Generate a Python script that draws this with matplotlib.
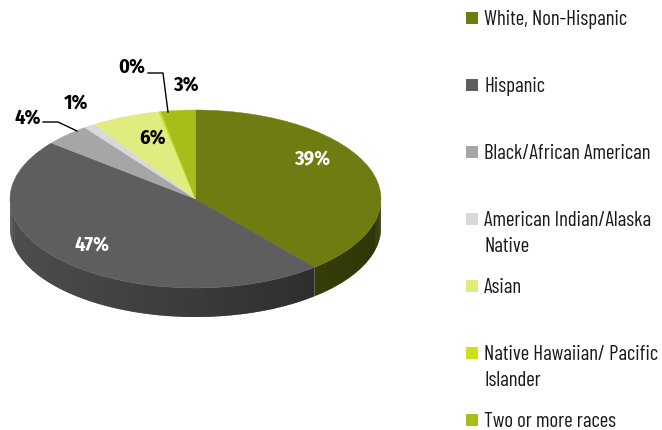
import matplotlib.pyplot as plt
import numpy as np
from matplotlib.patches import Polygon, Rectangle
import matplotlib.colors as mcolors

plt.rcParams['font.family'] = ['Barlow Condensed', 'DejaVu Sans']

# %% data
groups = ['White, Non-Hispanic', 'Hispanic', 'Black/African American',
          'American Indian/Alaska\nNative', 'Asian',
          'Native Hawaiian/ Pacific\nIslander', 'Two or more races']
shares = [39, 47, 4, 1, 6, 0.2, 3]
pct_labels = ['39%', '47%', '4%', '1%', '6%', '0%', '3%']
colors = ['#6f7c11', '#5e5e5e', '#a6a6a6', '#d9d9d9', '#e0eb80', '#cde01e', '#a9bd1a']

# label positions (pixels) and text colours
label_pos = [(312, 160), (92, 245), (28, 118), (76, 103), (153, 138), (132, 67), (186, 85)]
label_col = ['white', 'white', 'black', 'black', 'black', 'black', 'black']

W, H = 662, 431
fig = plt.figure(figsize=(W / 100, H / 100), dpi=100)

# pie geometry in pixels
cx, cy, rx, ry, depth = 195.5, 200, 185.5, 89, 29

# %% pie top (unit circle squashed into an ellipse by the axes limits)
ax = fig.add_axes([0, 0, 1, 1])
wedges, _ = ax.pie(shares, colors=colors, startangle=90, counterclock=False,
                   wedgeprops=dict(linewidth=0.3, edgecolor='none'))
for w, c in zip(wedges, colors):
    w.set_edgecolor(c)
ax.set_aspect('auto')
ax.set_xlim(-cx / rx, (W - cx) / rx)
ax.set_ylim(-(H - cy) / ry, cy / ry)
ax.axis('off')

# %% pie side (front half only, shaded left to right)
d = depth / ry
for w, c in zip(wedges, colors):
    n = max(2, int(abs(w.theta2 - w.theta1)) + 1)
    t = np.radians(np.linspace(w.theta1, w.theta2, n))
    step = t[1] - t[0]
    base = np.array(mcolors.to_rgb(c))
    for t0, t1 in zip(t[:-1], t[1:]):
        tm = 0.5 * (t0 + t1)
        if np.sin(tm) >= 0:
            continue
        t1 = min(t1 + 0.6 * step, t[-1])  # small overlap hides seams
        f = 0.62 - 0.2 * np.cos(tm)
        col = np.clip(base * f, 0, 1)
        quad = [(np.cos(t0), np.sin(t0)), (np.cos(t1), np.sin(t1)),
                (np.cos(t1), np.sin(t1) - d), (np.cos(t0), np.sin(t0) - d)]
        ax.add_patch(Polygon(quad, closed=True, facecolor=col, edgecolor='none',
                             zorder=0.5))

# %% overlay in pixel coordinates for labels and legend
ax2 = fig.add_axes([0, 0, 1, 1], zorder=2)
ax2.set_xlim(0, W)
ax2.set_ylim(H, 0)
ax2.axis('off')
ax2.patch.set_visible(False)

for txt, (x, y), tc in zip(pct_labels, label_pos, label_col):
    ax2.text(x, y, txt, color=tc, fontsize=14.5, fontweight='bold',
             family=['Fira Sans Condensed', 'DejaVu Sans'],
             ha='center', va='center')

# leader lines
ax2.plot([43, 58, 77], [123, 123, 132], color='black', lw=1)
ax2.plot([148, 163, 168], [74, 74, 113], color='black', lw=1)

# legend
for i, (g, c) in enumerate(zip(groups, colors)):
    y = 19 + i * 67
    ax2.add_patch(Rectangle((466, y - 6), 12, 12, facecolor=c, edgecolor='none'))
    ax2.text(484, y - 9, g, color='#1a1a1a', fontsize=15, ha='left', va='top',
             linespacing=1.45)

fig.savefig('out.png', dpi=100)
